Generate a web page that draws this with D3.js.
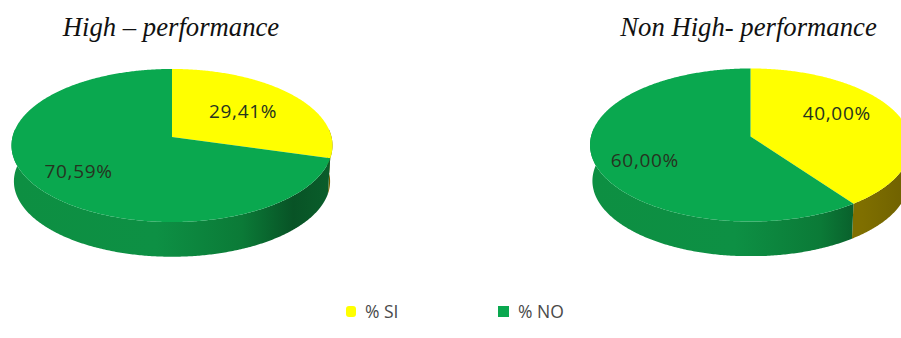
<!DOCTYPE html>
<html>
<head>
<meta charset="utf-8">
<script src="https://cdn.jsdelivr.net/npm/d3@7/dist/d3.min.js"></script>
<style>
  html, body { margin: 0; padding: 0; background: #fff; }
  svg { display: block; }
  .title { font-family: "Liberation Serif", serif; font-style: italic; font-size: 26.7px; fill: #111; }
  .value { font-family: "Open Sans", sans-serif; font-size: 19px; letter-spacing: 0.7px; fill: #26331f; }
  .key { font-family: "Open Sans", sans-serif; font-size: 17.5px; fill: #4a4a4a; }
</style>
</head>
<body>
<svg id="chart" width="901" height="338"></svg>
<script>
// Share of SI / NO answers per group
const categories = ["% SI", "% NO"];
const groups = ["High – performance", "Non High- performance"];
const siValues = [29.41, 40.00];
const noValues = [70.59, 60.00];

const topColors = ["#ffff00", "#0aa84f"];
const locale = d3.formatLocale({ decimal: ",", thousands: ".", grouping: [3], currency: ["", ""] });
const pct = v => locale.format(".2f")(v) + "%";

// Layout of the two tilted discs
const layouts = [
  { cx: 172, cy: 137, titleX: 171, clipBottom: 338, labelR: [0.58, 0.70], labelDy: [-1, 1] },
  { cx: 750.5, cy: 136.5, titleX: 748.5, clipBottom: 256, labelR: [0.58, 0.68], labelDy: [-10, 7] }
];
const RX = 159.5, RY = 75.6, TILT = 0.111, DEPTH = 36, BASE_SCALE = 0.985;

const svg = d3.select("#chart");
const defs = svg.append("defs");

// Perspective mapping of a point on the unit disc to offsets on screen
const project = (angle, r = 1) => {
  const u = r * Math.sin(angle), v = r * Math.cos(angle), w = 1 + TILT * v;
  return [RX * u / w, -RY * v / w];
};

const pie = d3.pie().sort(null).value(d => d);
const outline = d3.line();

const sampleArc = (a0, a1) => {
  const n = Math.max(2, Math.ceil((a1 - a0) / 0.01));
  return d3.range(n + 1).map(i => a0 + (a1 - a0) * i / n);
};

// Side wall shading, in the disc's own coordinates: medium green at left, darkest toward the right
const addWallGradient = (id, stops) => {
  const g = defs.append("linearGradient").attr("id", id)
    .attr("gradientUnits", "userSpaceOnUse")
    .attr("x1", -RX).attr("x2", RX).attr("y1", 0).attr("y2", 0);
  stops.forEach(([o, c]) => g.append("stop").attr("offset", o).attr("stop-color", c));
};

addWallGradient("wallNo", [
  [0, "#0d8f42"], [0.45, "#0d9044"], [0.72, "#0b7a37"], [0.88, "#085326"], [1, "#0a5e2b"]
]);
addWallGradient("wallSi", [[0, "#7f6f00"], [0.85, "#7f6f00"], [1, "#6e6000"]]);

groups.forEach((name, i) => {
  const L = layouts[i];
  const values = [siValues[i], noValues[i]];
  const arcs = pie(values);

  defs.append("clipPath").attr("id", "clip" + i)
    .append("rect").attr("x", 0).attr("y", 0).attr("width", 901).attr("height", L.clipBottom);

  svg.append("text").attr("class", "title")
    .attr("x", L.titleX).attr("y", 36).attr("text-anchor", "middle").text(name);

  const disc = svg.append("g").attr("clip-path", `url(#clip${i})`)
    .append("g").attr("transform", `translate(${L.cx},${L.cy})`);

  // Walls first: only the part of each slice that faces the viewer
  arcs.forEach((d, j) => {
    const angles = sampleArc(d.startAngle, d.endAngle)
      .filter(a => Math.cos(a) <= TILT);
    if (angles.length < 2) return;
    const upper = angles.map(a => project(a));
    const lower = angles.slice().reverse().map(a => {
      const p = project(a);
      return [p[0] * BASE_SCALE, p[1] * BASE_SCALE + DEPTH];
    });
    disc.append("path")
      .attr("d", outline(upper.concat(lower)) + "Z")
      .attr("fill", `url(#${j === 0 ? "wallSi" : "wallNo"})`);
  });

  // Top faces
  arcs.forEach((d, j) => {
    const rim = sampleArc(d.startAngle, d.endAngle).map(a => project(a));
    disc.append("path")
      .attr("d", outline([[0, 0], ...rim]) + "Z")
      .attr("fill", topColors[j]);
  });

  // Value labels sit along each slice's middle angle
  arcs.forEach((d, j) => {
    const p = project((d.startAngle + d.endAngle) / 2, L.labelR[j]);
    disc.append("text").attr("class", "value")
      .attr("x", p[0]).attr("y", p[1] + L.labelDy[j])
      .attr("text-anchor", "middle").attr("dominant-baseline", "central")
      .text(pct(d.value));
  });
});

// Legend
const keyX = d3.scalePoint().domain(categories).range([346, 498]);
categories.forEach((c, j) => {
  const x = keyX(c);
  svg.append("rect")
    .attr("x", x).attr("y", 306).attr("width", j === 0 ? 10 : 11).attr("height", 11)
    .attr("rx", j === 0 ? 3 : 0)
    .attr("fill", topColors[j]);
  svg.append("text").attr("class", "key")
    .attr("x", x + (j === 0 ? 19 : 20)).attr("y", 317.5).text(c);
});
</script>
</body>
</html>
